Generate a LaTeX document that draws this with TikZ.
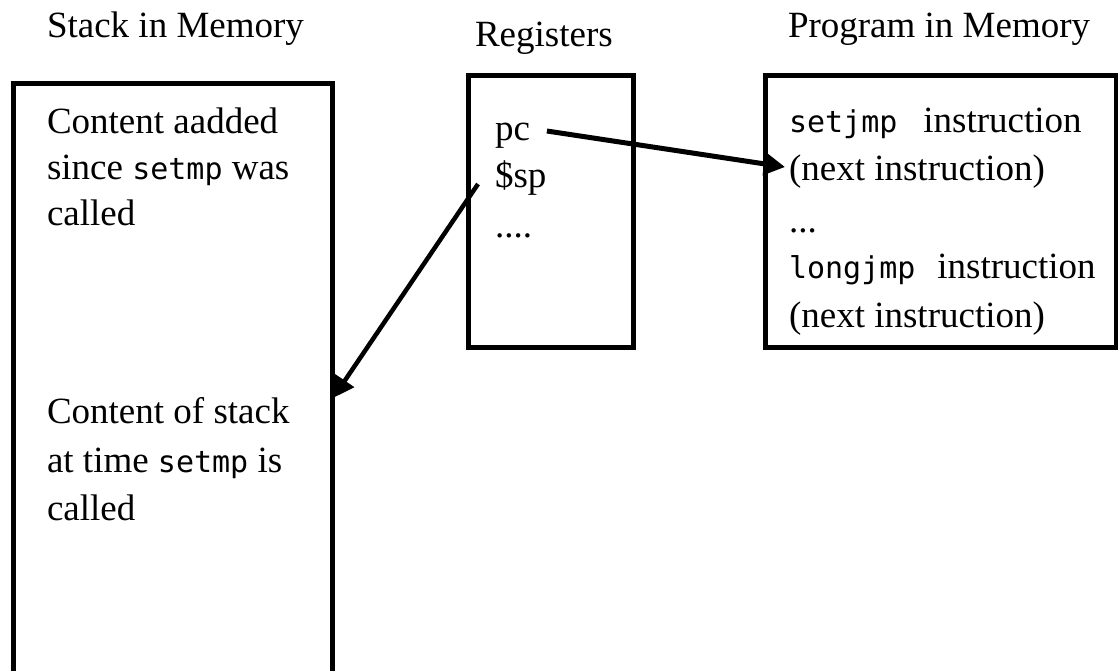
\documentclass[tikz,border=0pt]{standalone}
\usepackage{fontspec}
\setmainfont{Liberation Serif}
\newfontfamily\progmono{DejaVu Sans Mono}
\usetikzlibrary{arrows.meta}
\newcommand\progcode[1]{{\progmono\fontsize{30}{30}\selectfont #1}}

\tikzset{
  frame/.style={draw, line width=5pt, rectangle, inner sep=0pt, outer sep=0pt, anchor=north west},
  txt/.style={inner sep=0pt, outer sep=0pt, anchor=base west, font=\fontsize{37}{37}\selectfont},
  ptr/.style={line width=5pt, -{Triangle[length=21pt,width=22pt]}}
}

\begin{document}
\begin{tikzpicture}[x=1pt, y=-1pt]
\useasboundingbox (0,0) rectangle (1118,670);

% column headings
\node[txt] (hstack) at (47,37) {Stack in Memory};
\node[txt] (hregs)  at (475,46) {Registers};
\node[txt] (hprog)  at (788,37) {Program in Memory};

% boxes
\node[frame, minimum width=319pt, minimum height=620pt] (stack) at (13,83) {};
\node[frame, minimum width=165pt, minimum height=272pt] (regs)  at (468,75) {};
\node[frame, minimum width=351pt, minimum height=272pt] (prog)  at (765,75) {};

% stack contents
\node[txt] (s1) at (47,133) {Content aadded};
\node[txt] (s2) at (47,179) {since \progcode{setmp} was};
\node[txt] (s3) at (47,225) {called};
\node[txt] (s4) at (47,423) {Content of stack};
\node[txt] (s5) at (47,472) {at time \progcode{setmp} is};
\node[txt] (s6) at (47,520) {called};

% registers
\node[txt] (pc)   at (495,140) {pc};
\node[txt] (sp)   at (495,187) {\$sp};
\node[txt] (more) at (495,237) {....};

% program
\node[txt] (p1) at (789,132) {\progcode{setjmp}\hspace{26pt}instruction};
\node[txt] (p2) at (789,180) {(next instruction)};
\node[txt] (p3) at (789,232) {...};
\node[txt] (p4) at (789,278) {\progcode{longjmp}\hspace{22pt}instruction};
\node[txt] (p5) at (789,327) {(next instruction)};

% pointers
\draw[ptr] ([xshift=17pt,yshift=9pt]pc.base east) -- ([xshift=-4pt,yshift=13pt]p2.base west);
\draw[ptr, line width=4.5pt] ([xshift=-17pt,yshift=3pt]sp.base west) -- ([xshift=1pt,yshift=-315pt]stack.north east);
\end{tikzpicture}
\end{document}
